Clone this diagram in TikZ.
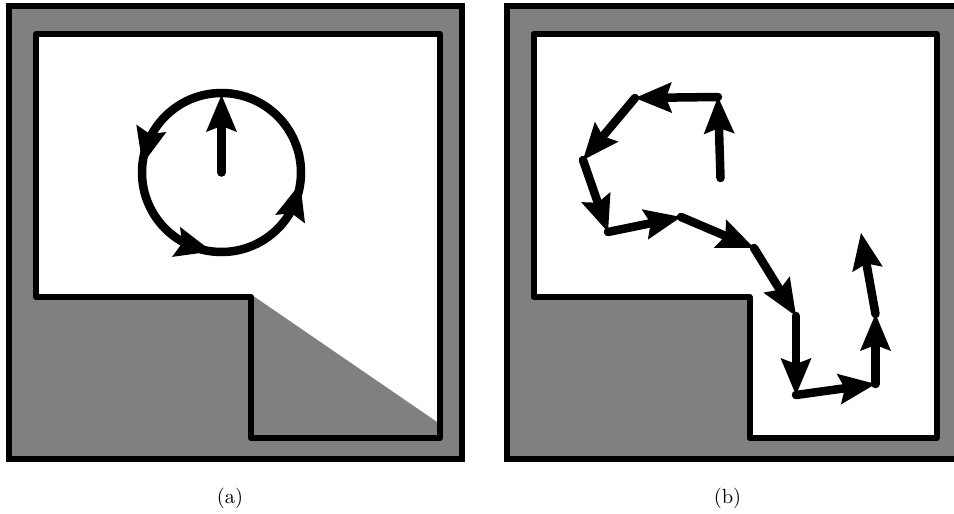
\documentclass[tikz,border=0pt]{standalone}
\usetikzlibrary{arrows.meta,decorations.markings}
\begin{document}
\begin{tikzpicture}[x=1pt,y=-1pt,
  outerbox/.style={fill=gray, draw=black, line width=6pt},
  roomfill/.style={fill=white},
  wall/.style={draw=black, line width=6pt, line join=round, line cap=round},
  darkzone/.style={fill=gray},
  headtip/.tip={Stealth[length=37pt,width=31pt,inset=6pt,line width=0pt]},
  mv/.style={draw=black, line width=8.5pt, line cap=round, -{headtip}},
  captxt/.style={font=\fontsize{10}{12}\selectfont, scale=2.05, anchor=base, inner sep=0pt}]
\useasboundingbox (0,0) rectangle (954,514);
% ---------- panel (a) ----------
\path[outerbox] (9,6) rectangle (461.5,458.5);
\path[roomfill] (36,34) -- (440,34) -- (440,438) -- (251,438) -- (251,297) -- (36,297) -- cycle;
\path[darkzone] (251,294.4) -- (440,424) -- (440,438) -- (251,438) -- cycle;
\path[wall] (36,34) -- (440,34) -- (440,438) -- (251,438) -- (251,297) -- (36,297) -- cycle;
\coordinate (ca) at (221.5,172.5);
\coordinate (catop) at (221.5,95);
\draw[line width=8.5pt, postaction={decorate}, decoration={markings,
   mark=at position 0.4833 with {\pgftransformrotate{-8}\arrow{headtip}},
   mark=at position 0.7306 with {\pgftransformrotate{-8}\arrow{headtip}},
   mark=at position 0.9778 with {\pgftransformrotate{-8}\arrow{headtip}}}]
   (ca) circle[radius=79.5pt];
\draw[mv] (ca) -- (catop);
\node[captxt] (capa) at (230,503) {(a)};
% ---------- panel (b) ----------
\begin{scope}[xshift=497.5pt]
\path[outerbox] (9,6) rectangle (461.5,458.5);
\path[roomfill] (36,34) -- (439,34) -- (439,438) -- (252,438) -- (252,297) -- (36,297) -- cycle;
\path[wall] (36,34) -- (439,34) -- (439,438) -- (252,438) -- (252,297) -- (36,297) -- cycle;
\end{scope}
\coordinate (p0) at (720.5,178);
\coordinate (p1) at (718,97);
\coordinate (p2) at (635,98);
\coordinate (p3) at (583,160);
\coordinate (p4) at (608,232);
\coordinate (p5) at (681,217);
\coordinate (p6) at (754,248);
\coordinate (p7) at (796,316);
\coordinate (p8) at (796,395);
\coordinate (p9) at (875.5,384);
\coordinate (p10) at (875.5,314);
\coordinate (p11) at (861,233);
\draw[mv] (p0) -- (p1);
\draw[mv] (p1) -- (p2);
\draw[mv] (p2) -- (p3);
\draw[mv] (p3) -- (p4);
\draw[mv] (p4) -- (p5);
\draw[mv] (p5) -- (p6);
\draw[mv] (p6) -- (p7);
\draw[mv] (p7) -- (p8);
\draw[mv] (p8) -- (p9);
\draw[mv] (p9) -- (p10);
\draw[mv] (p10) -- (p11);
\node[captxt] (capb) at (727.5,503) {(b)};
\end{tikzpicture}
\end{document}
